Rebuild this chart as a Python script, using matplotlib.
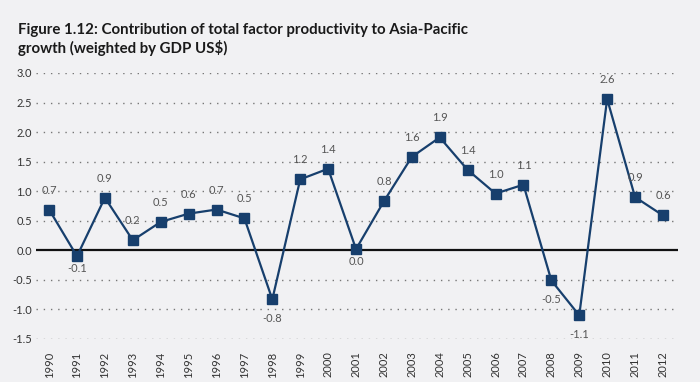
import matplotlib.pyplot as plt
import numpy as np

years = np.arange(1990, 2013)
tfp = [0.69, -0.10, 0.89, 0.17, 0.48, 0.62, 0.69, 0.54, -0.83, 1.20, 1.38, 0.02,
       0.83, 1.58, 1.91, 1.36, 0.96, 1.11, -0.51, -1.10, 2.56, 0.90, 0.59]
yticks = [-1.5, -1.0, -0.5, 0.0, 0.5, 1.0, 1.5, 2.0, 2.5, 3.0]

# labels drawn under the marker for these years
below = [1991, 1998, 2001, 2008, 2009]

bg = '#f1f1f3'
navy = '#173f6d'

fig = plt.figure(figsize=(7, 3.82), dpi=100, facecolor=bg)
ax = fig.add_axes([0.0514, 0.1126, 0.9172, 0.6964])
ax.set_facecolor(bg)

fig.text(0.026, 0.94, 'Figure 1.12: Contribution of total factor productivity to Asia-Pacific\ngrowth (weighted by GDP US$)',
         fontsize=10.8, fontweight='bold', family='Lato', color='#1a1a1a', va='top', linespacing=1.25)

for y in yticks:
    if y != 0:
        ax.axhline(y, color='#777777', linewidth=1.0, linestyle=(0, (1, 4.2)), zorder=1)
ax.axhline(0, color='#111111', linewidth=1.6, zorder=2)

ax.plot(years, tfp, color=navy, linewidth=1.6, marker='s', markersize=7.5,
        markerfacecolor=navy, markeredgecolor=navy, zorder=3)

for yr, v in zip(years, tfp):
    if yr in below:
        off = -9 if yr in (1991, 2001) else -14
    else:
        off = 14
    ax.annotate(f'{v:.1f}', (yr, v), xytext=(0, off), textcoords='offset points',
                ha='center', va='center', fontsize=8, color='#555555', family='Lato', zorder=4)

ax.set_xlim(1989.53, 2012.54)
ax.set_ylim(-1.5, 3.0)
ax.set_yticks(yticks)
ax.set_yticklabels([f'{t:.1f}' for t in yticks], fontsize=8, color='#333333', family='Lato')
ax.set_xticks(years)
ax.set_xticklabels([str(y) for y in years], rotation=90, fontsize=8, color='#333333', family='Lato')
ax.tick_params(axis='both', length=0)
ax.tick_params(axis='y', pad=3)
ax.tick_params(axis='x', pad=9)
for s in ax.spines.values():
    s.set_visible(False)

fig.savefig('out.png', dpi=100, facecolor=bg)
